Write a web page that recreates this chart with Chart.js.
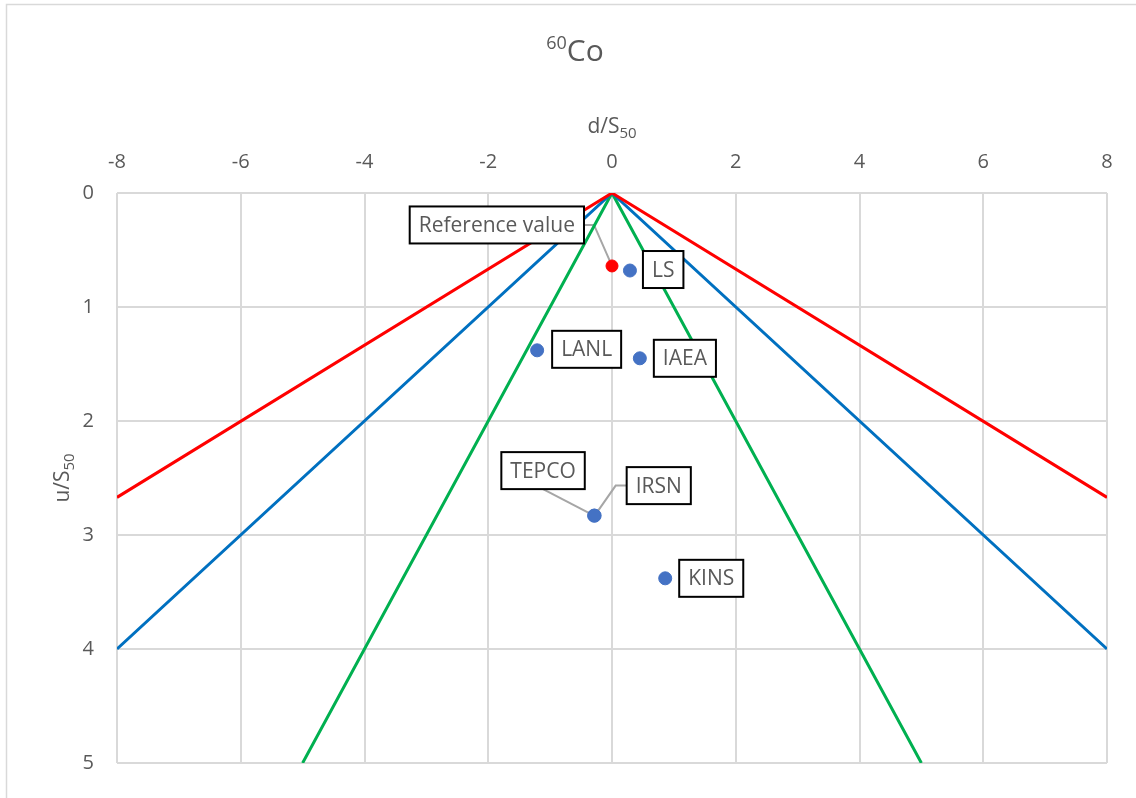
<!DOCTYPE html>
<html>
<head>
<meta charset="utf-8">
<script src="https://cdn.jsdelivr.net/npm/chart.js@4.4.1/dist/chart.umd.min.js"></script>
<style>
  html, body { margin: 0; padding: 0; background: #fff; }
</style>
</head>
<body>
<canvas id="chart" width="1136" height="798"></canvas>
<script>
// Lab results, in units of S50
const labNames = ['LS', 'LANL', 'IAEA', 'TEPCO', 'IRSN', 'KINS'];
const labD = [0.29, -1.21, 0.45, -0.29, -0.28, 0.86];
const labU = [0.68, 1.38, 1.45, 2.83, 2.83, 3.38];

const refName = 'Reference value';
const refD = [0];
const refU = [0.64];

// Acceptance lines
const redD = [-8, 0, 8];
const redU = [2.67, 0, 2.67];
const blueD = [-8, 0, 8];
const blueU = [4, 0, 4];
const greenD = [-5, 0, 5];
const greenU = [5, 0, 5];

const xTicks = [-8, -6, -4, -2, 0, 2, 4, 6, 8];
const yTicks = [0, 1, 2, 3, 4, 5];

const TEXT = '#595959';
const GRID = '#D9D9D9';
const FONT = "'Open Sans', sans-serif";

// Where each label box sits relative to its point (pixels)
const labelLayout = {
  'Reference value': { align: 'right', dx: -28, dy: -41, leader: 'side' },
  LS: { align: 'left', dx: 13, dy: -1 },
  LANL: { align: 'left', dx: 15, dy: -1 },
  IAEA: { align: 'left', dx: 14, dy: 0 },
  TEPCO: { align: 'center', dx: -51, dy: -45, leader: 'bottom' },
  IRSN: { align: 'left', dx: 32, dy: -30, leader: 'side' },
  KINS: { align: 'left', dx: 14, dy: 0 },
};

const toPoints = (xs, ys) => xs.map((x, i) => ({ x, y: ys[i] }));

function labelItems() {
  return [{ name: refName, d: refD[0], u: refU[0] }].concat(
    labNames.map((name, i) => ({ name, d: labD[i], u: labU[i] }))
  );
}

function boxFor(ctx, item, px, py) {
  const lay = labelLayout[item.name];
  const w = ctx.measureText(item.name).width + 18;
  const h = 37;
  let left;
  if (lay.align === 'left') left = px + lay.dx;
  else if (lay.align === 'right') left = px + lay.dx - w;
  else left = px + lay.dx - w / 2;
  return { left, top: py + lay.dy - h / 2, w, h, lay };
}

// Draws text pieces (for super/subscripts) centred on cx
function drawScripted(ctx, parts, cx, baseline) {
  let total = 0;
  parts.forEach((p) => {
    ctx.font = `${p.size}px ${FONT}`;
    p.w = ctx.measureText(p.text).width;
    total += p.w;
  });
  let x = cx - total / 2;
  ctx.textAlign = 'left';
  ctx.textBaseline = 'alphabetic';
  parts.forEach((p) => {
    ctx.font = `${p.size}px ${FONT}`;
    ctx.fillText(p.text, x, baseline + p.dy);
    x += p.w;
  });
}

const decorPlugin = {
  id: 'decor',
  beforeDraw(chart) {
    const ctx = chart.ctx;
    ctx.save();
    ctx.fillStyle = '#fff';
    ctx.fillRect(0, 0, chart.width, chart.height);
    ctx.strokeStyle = GRID;
    ctx.lineWidth = 1.5;
    ctx.strokeRect(6.5, 4.5, 1300, 1000);
    ctx.restore();
  },
  beforeDatasetsDraw(chart) {
    // leader lines
    const { ctx, scales } = chart;
    ctx.save();
    ctx.font = `21px ${FONT}`;
    ctx.strokeStyle = '#A6A6A6';
    ctx.lineWidth = 2;
    labelItems().forEach((item) => {
      const px = scales.x.getPixelForValue(item.d);
      const py = scales.y.getPixelForValue(item.u);
      const b = boxFor(ctx, item, px, py);
      if (!b.lay.leader) return;
      ctx.beginPath();
      if (b.lay.leader === 'bottom') {
        ctx.moveTo(b.left + b.w / 2, b.top + b.h);
      } else if (b.lay.align === 'right') {
        ctx.moveTo(b.left + b.w, b.top + b.h / 2);
        ctx.lineTo(b.left + b.w + 10, b.top + b.h / 2);
      } else {
        ctx.moveTo(b.left, b.top + b.h / 2);
        ctx.lineTo(b.left - 11, b.top + b.h / 2);
      }
      ctx.lineTo(px, py);
      ctx.stroke();
    });
    ctx.restore();
  },
  afterDatasetsDraw(chart) {
    const { ctx, scales } = chart;
    ctx.save();
    ctx.font = `21px ${FONT}`;
    labelItems().forEach((item) => {
      const px = scales.x.getPixelForValue(item.d);
      const py = scales.y.getPixelForValue(item.u);
      const b = boxFor(ctx, item, px, py);
      ctx.fillStyle = '#fff';
      ctx.fillRect(b.left, b.top, b.w, b.h);
      ctx.strokeStyle = '#000';
      ctx.lineWidth = 2;
      ctx.strokeRect(b.left, b.top, b.w, b.h);
      ctx.fillStyle = TEXT;
      ctx.textAlign = 'center';
      ctx.textBaseline = 'middle';
      ctx.fillText(item.name, b.left + b.w / 2, b.top + b.h / 2 + 1);
    });

    // title and axis titles
    ctx.fillStyle = TEXT;
    drawScripted(ctx, [
      { text: '60', size: 18, dy: -12 },
      { text: 'Co', size: 30, dy: 0 },
    ], 575, 61);

    const area = chart.chartArea;
    drawScripted(ctx, [
      { text: 'd/S', size: 21, dy: 0 },
      { text: '50', size: 15, dy: 5 },
    ], (area.left + area.right) / 2, 133);

    ctx.save();
    ctx.translate(69, (area.top + area.bottom) / 2);
    ctx.rotate(-Math.PI / 2);
    drawScripted(ctx, [
      { text: 'u/S', size: 21, dy: 0 },
      { text: '50', size: 15, dy: 5 },
    ], 0, 0);
    ctx.restore();
    ctx.restore();
  },
};

Chart.defaults.font.family = FONT;
Chart.defaults.color = TEXT;

new Chart(document.getElementById('chart'), {
  type: 'scatter',
  data: {
    datasets: [
      {
        label: refName,
        data: toPoints(refD, refU),
        backgroundColor: '#FF0000',
        borderColor: '#FF0000',
        pointRadius: 6,
        order: 0,
      },
      {
        label: 'Labs',
        data: toPoints(labD, labU),
        backgroundColor: '#4472C4',
        borderColor: '#4472C4',
        pointRadius: 6.5,
        order: 0,
      },
      {
        label: 'red',
        data: toPoints(redD, redU),
        showLine: true,
        borderColor: '#FF0000',
        borderWidth: 3,
        pointRadius: 0,
        order: 1,
      },
      {
        label: 'blue',
        data: toPoints(blueD, blueU),
        showLine: true,
        borderColor: '#0070C0',
        borderWidth: 3,
        pointRadius: 0,
        order: 1,
      },
      {
        label: 'green',
        data: toPoints(greenD, greenU),
        showLine: true,
        borderColor: '#00B050',
        borderWidth: 3,
        pointRadius: 0,
        order: 1,
      },
    ],
  },
  options: {
    responsive: false,
    animation: false,
    layout: { padding: { left: 0, right: 29, top: 0, bottom: 29 } },
    plugins: {
      legend: { display: false },
      tooltip: { enabled: false },
    },
    scales: {
      x: {
        type: 'linear',
        position: 'top',
        min: -8,
        max: 8,
        afterBuildTicks: (s) => { s.ticks = xTicks.map((v) => ({ value: v })); },
        afterFit: (s) => { s.height = 193; },
        grid: { color: GRID, lineWidth: 2, drawTicks: false },
        border: { display: false },
        ticks: { padding: 19, font: { size: 20 }, color: TEXT },
      },
      y: {
        type: 'linear',
        reverse: true,
        min: 0,
        max: 5,
        afterBuildTicks: (s) => { s.ticks = yTicks.map((v) => ({ value: v })); },
        afterFit: (s) => { s.width = 117; },
        grid: { color: GRID, lineWidth: 2, drawTicks: false },
        border: { display: false },
        ticks: { padding: 23, font: { size: 20 }, color: TEXT },
      },
    },
  },
  plugins: [decorPlugin],
});
</script>
</body>
</html>
